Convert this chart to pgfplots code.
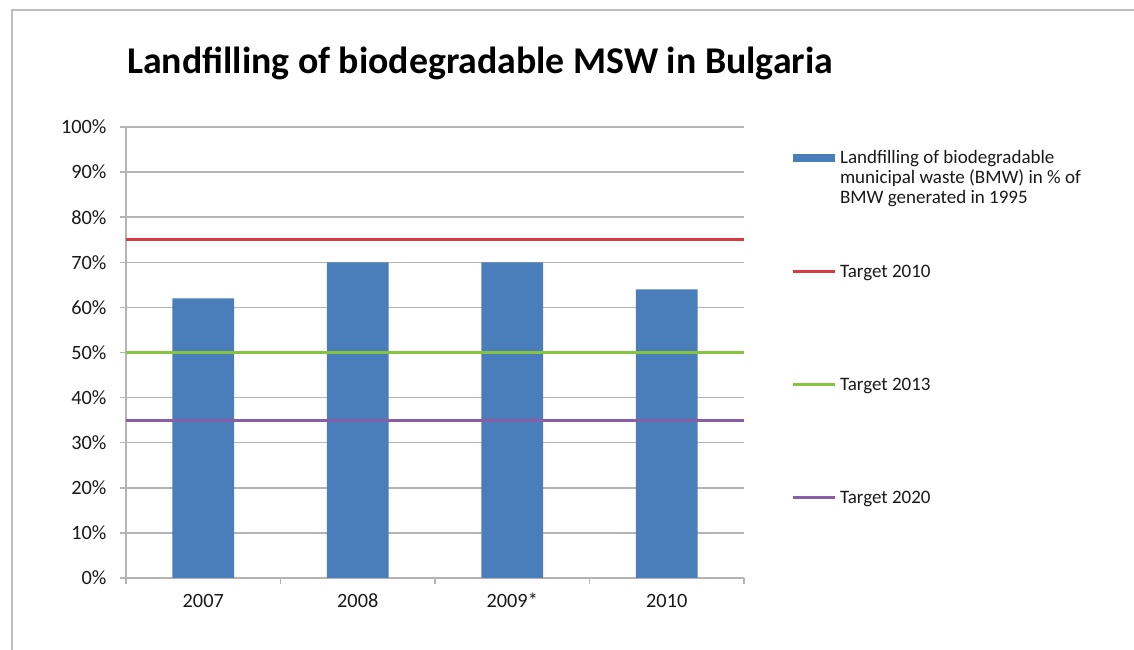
\documentclass[border=0pt]{standalone}
\usepackage{pgfplots}
\pgfplotsset{compat=1.18}
\usepackage{fontspec}
\setmainfont{Carlito}
\definecolor{barblue}{HTML}{4A7EBB}
\definecolor{tred}{HTML}{DA3A41}
\definecolor{tgreen}{HTML}{86C440}
\definecolor{tpurple}{HTML}{8A5DA8}
\definecolor{gridgray}{HTML}{B4B4B4}
\definecolor{framegray}{HTML}{BDBDBD}
\begin{document}
\begin{tikzpicture}
\useasboundingbox (0bp,0bp) rectangle (1134bp,650bp);
\draw[framegray, line width=2bp] (12bp,0bp) -- (12bp,640bp) -- (1134bp,640bp);
\begin{axis}[
  scale only axis, width=618bp, height=451bp,
  at={(126bp,72bp)}, anchor=south west,
  xmin=-0.5, xmax=3.5, ymin=0, ymax=100,
  axis x line=bottom, axis y line=left,
  axis line style={-, gridgray, line width=1.5bp},
  ytick={0,10,...,100},
  yticklabels={0\%,10\%,20\%,30\%,40\%,50\%,60\%,70\%,80\%,90\%,100\%},
  xtick={-0.5,0.5,1.5,2.5,3.5},
  xticklabels={},
  extra x ticks={0,1,2,3},
  extra x tick labels={2007,2008,2009*,2010},
  extra x tick style={major tick length=0pt, xticklabel style={anchor=base, inner sep=0pt, yshift=-30bp}},
  tick align=outside,
  major tick length=6bp,
  tick style={gridgray, line width=1.5bp},
  ymajorgrids,
  grid style={gridgray, line width=1.5bp},
  ticklabel style={font=\fontsize{20.3bp}{21bp}\selectfont, color=black!90},
  yticklabel style={xshift=-10bp},
  title={Landfilling of biodegradable MSW in Bulgaria},
  title style={font=\bfseries\fontsize{37.8bp}{40bp}\selectfont, anchor=base, at={(axis description cs:0.573,1)}, yshift=48bp, inner sep=0pt},
  legend style={at={(axis description cs:1.0761,0.949)}, anchor=north west, draw=none, fill=none, inner sep=0pt, outer sep=0pt, row sep=97.7bp, column sep=0bp, font=\fontsize{19bp}{20bp}\selectfont, cells={anchor=base west}, nodes={inner xsep=4bp, inner ysep=0pt, text=black!90}},
]
\addplot[ybar, bar width=0.4, fill=barblue, draw=none,
  legend image code/.code={\fill[barblue] (0bp,2bp) rectangle (42bp,10bp);}]
  coordinates {(0,62) (1,70) (2,70) (3,64)};
\addlegendentry{\begin{tabular}[t]{@{}l@{}}Landfilling of biodegradable\\municipal waste (BMW) in \% of\\BMW generated in 1995\end{tabular}}
\addplot[tred, line width=3bp, legend image code/.code={\draw[tred, line width=3bp] (0bp,6bp) -- (42bp,6bp);}]
  coordinates {(-0.5,75) (3.5,75)};
\addlegendentry{\begin{tabular}[t]{@{}l@{}}Target 2010\\\strut\\\strut\end{tabular}}
\addplot[tgreen, line width=3bp, legend image code/.code={\draw[tgreen, line width=3bp] (0bp,6bp) -- (42bp,6bp);}]
  coordinates {(-0.5,50) (3.5,50)};
\addlegendentry{\begin{tabular}[t]{@{}l@{}}Target 2013\\\strut\\\strut\end{tabular}}
\addplot[tpurple, line width=3bp, legend image code/.code={\draw[tpurple, line width=3bp] (0bp,6bp) -- (42bp,6bp);}]
  coordinates {(-0.5,35) (3.5,35)};
\addlegendentry{\begin{tabular}[t]{@{}l@{}}Target 2020\\\strut\\\strut\end{tabular}}
\end{axis}
\end{tikzpicture}
\end{document}
